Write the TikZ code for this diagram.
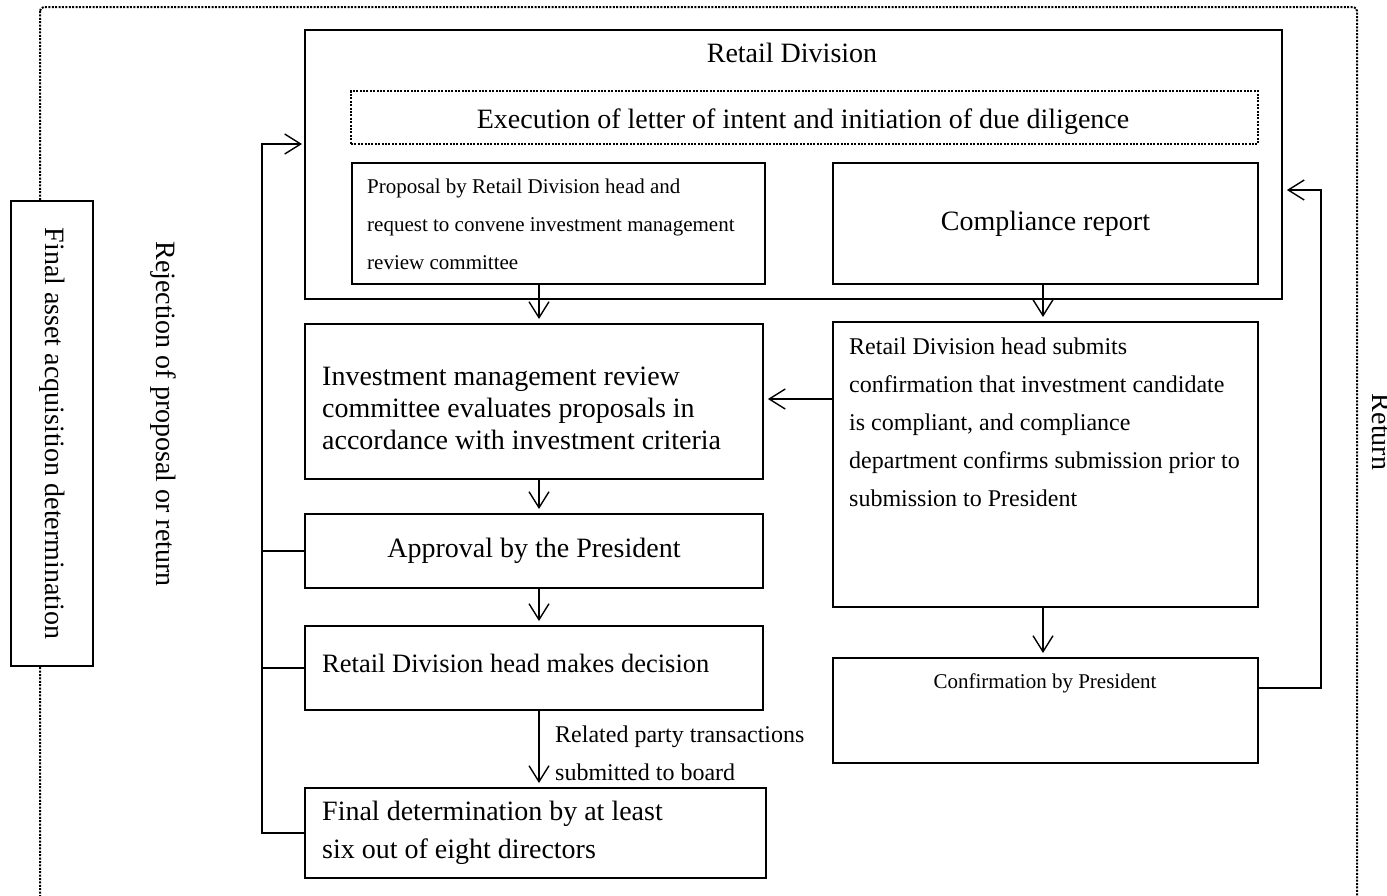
\documentclass[tikz,border=0pt]{standalone}
\usepackage{fontspec}
\setmainfont{Liberation Serif}
\usetikzlibrary{arrows.meta}
\begin{document}
\begin{tikzpicture}[x=1pt,y=-1pt,
  box/.style={draw, line width=1.9pt, inner sep=0pt, anchor=north west, fill=white},
  dotbox/.style={draw, line width=2pt, dash pattern=on 2pt off 1.4pt, inner sep=0pt, anchor=north west},
  dotline/.style={line width=2pt, dash pattern=on 2pt off 1.4pt},
  conn/.style={line width=1.4pt},
  arr/.style={conn, -{Straight Barb[length=16pt,width=20pt,line width=1.4pt]}, shorten >=4pt},
  big/.style={font=\fontsize{28}{32}\selectfont, inner sep=0pt},
  bigF/.style={font=\fontsize{28}{38}\selectfont, inner sep=0pt},
  mid/.style={font=\fontsize{24}{38}\selectfont, inner sep=0pt},
  small/.style={font=\fontsize{21}{38}\selectfont, inner sep=0pt}]
\useasboundingbox (0,0) rectangle (1387,895);
\fill[white] (0,0) rectangle (1387,895);
% outer dotted frame
\draw[dotline, rounded corners=4pt] (40,7) rectangle (1357,910);
% boxes
\node[box, minimum width=977pt, minimum height=269pt] (retail) at (304,29) {};
\node[big, anchor=base] (retailT) at (792,62) {Retail Division};
\node[dotbox, minimum width=907pt, minimum height=53pt] (loi) at (350,90) {};
\node[big, anchor=base] (loiT) at (803,128) {Execution of letter of intent and initiation of due diligence};
\node[box, minimum width=413pt, minimum height=121pt] (prop) at (351,162) {};
\node[small, anchor=base west, align=left] (propT) at (367,269) {Proposal by Retail Division head and\\request to convene investment management\\review committee};
\node[box, big, minimum width=425pt, minimum height=121pt] (comp) at (832,162) {Compliance report};
\node[box, minimum width=458pt, minimum height=155pt] (inv) at (304,323) {};
\node[big, anchor=base west, align=left] (invT) at (322,449) {Investment management review\\committee evaluates proposals in\\accordance with investment criteria};
\node[box, minimum width=425pt, minimum height=285pt] (conf) at (832,321) {};
\node[mid, anchor=base west, align=left] (confT) at (849,506) {Retail Division head submits\\confirmation that investment candidate\\is compliant, and compliance\\department confirms submission prior to\\submission to President};
\node[box, big, minimum width=458pt, minimum height=74pt] (appr) at (304,513) {Approval by the President};
\node[box, minimum width=458pt, minimum height=84pt] (dec) at (304,625) {};
\node[font=\fontsize{26.5}{32}\selectfont, inner sep=0pt, anchor=base west] (decT) at (322,672) {Retail Division head makes decision};
\node[box, minimum width=461pt, minimum height=90pt] (fin) at (304,787) {};
\node[bigF, anchor=base west, align=left] (finT) at (322,858) {Final determination by at least\\six out of eight directors};
\node[box, minimum width=425pt, minimum height=105pt] (pres) at (832,657) {};
\node[small, anchor=base] (presT) at (1045,688) {Confirmation by President};
\node[mid, anchor=base west, align=left] (relT) at (555,780) {Related party transactions\\submitted to board};
% left side
\node[box, minimum width=82pt, minimum height=465pt] (final) at (10,200) {};
\node[big, rotate=-90] (finalT) at (final.center) {Final asset acquisition determination};
\node[big, rotate=-90] (rejT) at (163,414) {Rejection of proposal or return};
\node[big, rotate=-90, anchor=base] (retT) at (1372,432) {Return};
% connectors
\coordinate (cL) at (539,0);
\coordinate (cR) at (1043,0);
\coordinate (hA) at (0,399);
\coordinate (rx) at (1321,688);
\coordinate (ry) at (1321,190);
\coordinate (lx) at (262,144);
\draw[arr] (prop.south -| cL) -- (inv.north -| cL);
\draw[arr] (comp.south -| cR) -- (conf.north -| cR);
\draw[arr] (conf.west |- hA) -- (inv.east |- hA);
\draw[arr] (inv.south -| cL) -- (appr.north -| cL);
\draw[arr] (appr.south -| cL) -- (dec.north -| cL);
\draw[arr] (dec.south -| cL) -- (fin.north -| cL);
\draw[arr] (conf.south -| cR) -- (pres.north -| cR);
\draw[arr] (pres.east |- rx) -- (rx) -- (ry) -- (retail.east |- ry);
\draw[arr, shorten >=2pt] (fin.west) -| (lx) -- (retail.west |- lx);
\draw[conn] (appr.west) -- (appr.west -| lx);
\draw[conn] (dec.west) -- (dec.west -| lx);
\end{tikzpicture}
\end{document}
